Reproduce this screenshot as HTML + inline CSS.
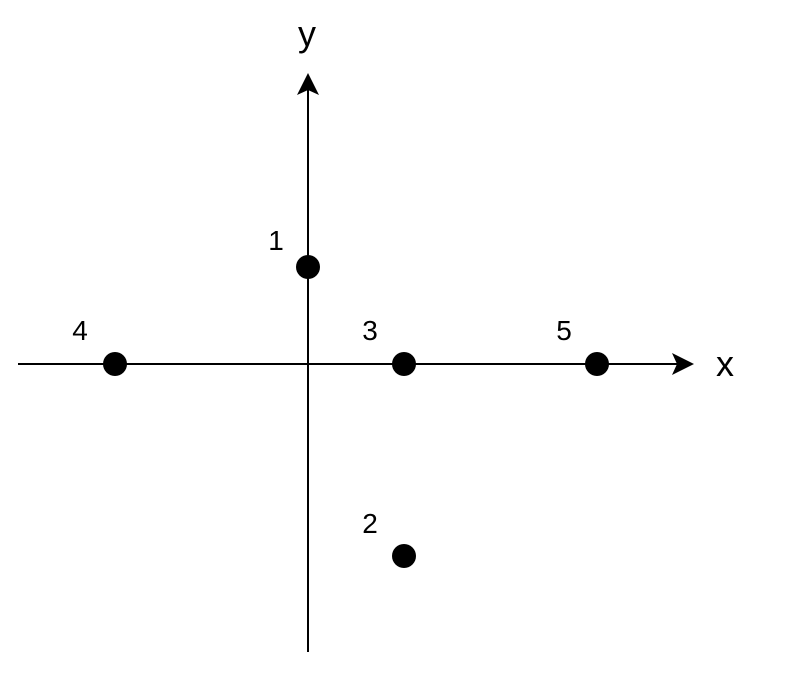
<!DOCTYPE html>
<html><head><style>body{margin:0;background:#fff}</style></head><body>
<svg width="800" height="674" xmlns="http://www.w3.org/2000/svg" font-family="Liberation Sans, sans-serif" font-size="28">
<rect width="800" height="674" fill="#fff"/>
<line x1="18" y1="364" x2="684" y2="364" stroke="#000" stroke-width="2"/>
<line x1="308" y1="652" x2="308" y2="84" stroke="#000" stroke-width="2"/>
<path d="M694 364 L672 353 L677 364 L672 375 Z" fill="#000"/>
<path d="M308 73 L297 95 L308 90 L319 95 Z" fill="#000"/>
<g fill="#000">
<circle cx="308" cy="267" r="12"/>
<circle cx="404" cy="364" r="12"/>
<circle cx="115" cy="364" r="12"/>
<circle cx="597" cy="364" r="12"/>
<circle cx="404" cy="556" r="12"/>
</g>
<g text-anchor="middle">
<text x="307" y="46" font-size="36">y</text>
<text x="725" y="376" font-size="36">x</text>
<text x="276" y="250">1</text>
<text x="80" y="340">4</text>
<text x="370" y="340">3</text>
<text x="564" y="340">5</text>
<text x="370" y="533">2</text>
</g>
</svg>
</body></html>
